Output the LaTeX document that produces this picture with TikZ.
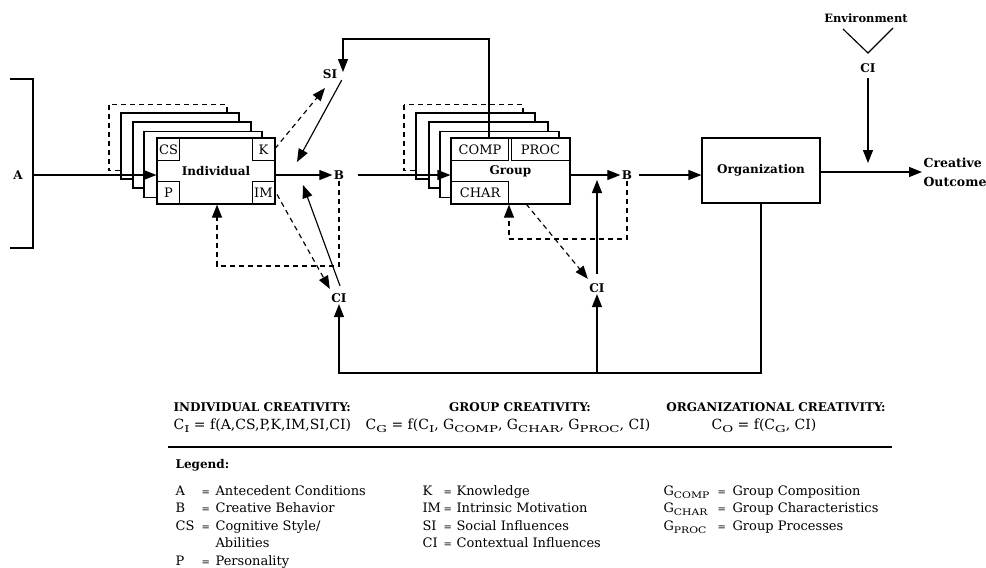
\documentclass[tikz,border=0pt]{standalone}
\usepackage{fontspec}
\usepackage{graphicx}
\setmainfont{DejaVu Serif}
\usetikzlibrary{arrows.meta,calc}
\newcommand\sbs[1]{\raisebox{-0.45ex}{\scalebox{1.4}[1]{\fontsize{9.5}{10}\selectfont #1}}}
\newcommand\sbl[1]{\raisebox{-0.45ex}{\scalebox{1.2}[1]{\fontsize{9}{10}\selectfont #1}}}
\newcommand\eqsym{{\fontsize{10}{18}\selectfont =}}
\begin{document}
\begin{tikzpicture}[x=1pt,y=-1pt, line width=1.15pt,
  arr/.style={-{Triangle[length=13pt,width=10pt]}},
  dsh/.style={dash pattern=on 5pt off 4pt},
  lbl/.style={font=\fontsize{12}{14}\selectfont\bfseries, inner sep=1pt},
  subbox/.style={draw, fill=white, inner sep=0pt, minimum height=22pt, font=\fontsize{13}{14}\selectfont},
  mainbox/.style={draw, fill=white, inner sep=0pt, minimum width=118pt, minimum height=66pt, font=\fontsize{12}{14}\selectfont\bfseries},
  head/.style={font=\fontsize{12}{14}\selectfont\bfseries, inner sep=0pt},
  form/.style={font=\fontsize{14}{16}\selectfont, inner sep=0pt},
  legtab/.style={font=\fontsize{13}{17.6}\selectfont, inner sep=0pt, anchor=base west},
]
\useasboundingbox (0,0) rectangle (986,568);

% ---------- Individual module ----------
\foreach \dx/\dy/\st in {-48/-33.5/dsh,-36/-25/solid,-24/-16/solid,-13/-6.5/solid}
  \draw[fill=white,\st] (157+\dx,138+\dy) rectangle ++(118,66);
\node[mainbox] (ind) at (216,171) {Individual};
\node[subbox, minimum width=22pt, anchor=north west] (CS) at (157,138) {CS};
\node[subbox, minimum width=22pt, anchor=north east] (K) at (275,138) {K};
\node[subbox, minimum width=22pt, anchor=south west] (P) at (157,204) {P};
\node[subbox, minimum width=22pt, anchor=south east] (IM) at (275,204) {IM};

% ---------- Group module ----------
\foreach \dx/\dy/\st in {-47/-33.5/dsh,-35/-25/solid,-22/-16/solid,-11/-6.5/solid}
  \draw[fill=white,\st] (451+\dx,138+\dy) rectangle ++(119,66);
\node[mainbox, minimum width=119pt] (grp) at (510.5,171) {Group};
\node[subbox, minimum width=57pt, anchor=north west] (COMP) at (451,138) {COMP};
\node[subbox, minimum width=58pt, anchor=north east] (PROC) at (570,138) {PROC};
\node[subbox, minimum width=57pt, anchor=south west] (CHAR) at (451,204) {CHAR};

% ---------- Organization ----------
\node[mainbox, minimum height=65pt] (org) at (761,170.5) {Organization};

% ---------- labels ----------
\node[lbl] (A) at (18,175) {A};
\node[lbl] (B1) at (339,175) {B};
\node[lbl] (SI) at (330,74) {SI};
\node[lbl] (CI1) at (339,298) {CI};
\node[lbl] (B2) at (627,175) {B};
\node[lbl] (CI2) at (597,288) {CI};
\node[lbl, font=\fontsize{12.5}{19}\selectfont\bfseries, align=left, anchor=west] (out) at (922,172) {Creative\\Outcome};
\node[lbl, font=\fontsize{11.5}{13}\selectfont\bfseries] (env) at (866,18) {Environment};
\node[lbl] (CI3) at (868,68) {CI};

% ---------- coordinates ----------
\coordinate (brk) at (33,175);
\coordinate (brt) at (10,79);
\coordinate (brb) at (10,248);
\coordinate (tl) at (489,39);
\coordinate (siin) at (343,72);
\coordinate (sik) at (325,88);
\coordinate (bsi) at (297,162);
\coordinate (bci) at (303,185);
\coordinate (fb1) at (217,266);
\coordinate (fb2) at (509,239);
\coordinate (bl) at (339,373);
\coordinate (b2up) at (597,180);
\coordinate (cio) at (868,163);
\coordinate (vl) at (843,29);
\coordinate (vm) at (868,53);
\coordinate (vr) at (893,28);

% ---------- connectors ----------
\draw (brt) -- (brt -| brk) -- (brb -| brk) -- (brb);
\draw[arr] (brk) -- (ind.west |- brk);
\draw[arr] (ind.east |- B1) -- (B1.west);
\draw[arr] (tl |- COMP.north) -- (tl) -- (tl -| siin) -- (siin);
\draw[dsh,arr] ([yshift=1pt]K.east) -- (sik);
\draw[arr] ([xshift=3pt]SI.south east) -- (bsi);
\draw[arr] ([xshift=1pt,yshift=6pt]CI1.north) -- (bci);
\draw[dsh,arr] ([xshift=2pt,yshift=-2pt]IM.east) -- ([yshift=3pt]CI1.north west);
\draw[dsh,arr] (B1.south) |- (fb1) -- (fb1 |- ind.south);
\draw[arr] (org.south) |- (bl) -- (CI1.south);
\draw[arr] (CI2 |- bl) -- (CI2.south);
\draw[arr] ([yshift=8pt]CI2.north) -- (b2up);
\draw[dsh,arr] ($(CHAR.south east)+(17,0)$) -- ([yshift=3pt]CI2.north west);
\draw[dsh,arr] (B2.south) |- (fb2) -- (fb2 |- grp.south);
\draw[arr] ([xshift=12pt]B1.east) -- (grp.west |- B1.east);
\draw[arr] (grp.east |- B2) -- (B2.west);
\draw[arr] ([xshift=5pt]B2.east) -- (org.west |- B2.east);
\draw[arr] (org.east |- out) -- (out.west);
\draw[arr] ([yshift=-4pt]CI3.south) -- (cio);
\draw (vl) -- (vm) -- (vr);

% ---------- formulas ----------
\node[head, anchor=west] (h1) at (173,407) {INDIVIDUAL CREATIVITY:};
\node[head] (h2) at (520,407) {GROUP CREATIVITY:};
\node[head] (h3) at (776,407) {ORGANIZATIONAL CREATIVITY:};
\node[form, anchor=west] (f1) at (173,426) {C\sbs{I} = f(A,CS,P,K,IM,SI,CI)};
\node[form] (f2) at (508,426) {C\sbs{G} = f(C\sbs{I}, G\sbs{COMP}, G\sbs{CHAR}, G\sbs{PROC}, CI)};
\node[form] (f3) at (764,426) {C\sbs{O} = f(C\sbs{G}, CI)};
\coordinate (rl) at (168,447);
\coordinate (rr) at (892,447);
\draw[line width=1.3pt] (rl) -- (rr);

% ---------- legend ----------
\node[font=\fontsize{12}{14}\selectfont\bfseries, inner sep=0pt, anchor=west] (lg) at (175,465) {Legend:};
\node[legtab] (lc1) at (175,495) {\begin{tabular}[t]{@{}p{26pt}@{}p{14pt}@{}l@{}}
A & \eqsym & Antecedent Conditions\\
B & \eqsym & Creative Behavior\\
CS & \eqsym & Cognitive Style/\\
 & & Abilities\\
P & \eqsym & Personality
\end{tabular}};
\node[legtab] (lc2) at (422,495) {\begin{tabular}[t]{@{}p{21pt}@{}p{13pt}@{}l@{}}
K & \eqsym & Knowledge\\
IM & \eqsym & Intrinsic Motivation\\
SI & \eqsym & Social Influences\\
CI & \eqsym & Contextual Influences
\end{tabular}};
\node[legtab] (lc3) at (663,495) {\begin{tabular}[t]{@{}p{54pt}@{}p{15pt}@{}l@{}}
G\sbl{COMP} & \eqsym & Group Composition\\
G\sbl{CHAR} & \eqsym & Group Characteristics\\
G\sbl{PROC} & \eqsym & Group Processes
\end{tabular}};
\end{tikzpicture}
\end{document}
